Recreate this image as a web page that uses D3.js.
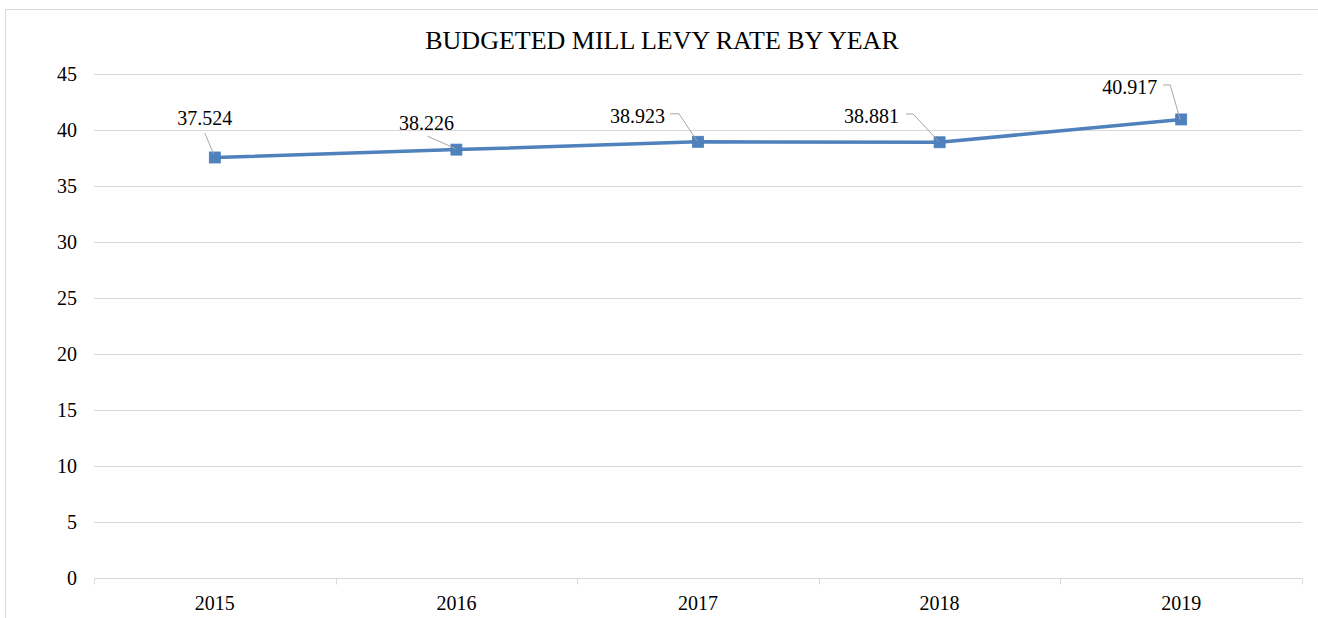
<!DOCTYPE html>
<html>
<head>
<meta charset="utf-8">
<title>Budgeted Mill Levy Rate by Year</title>
<script src="https://cdn.jsdelivr.net/npm/d3@7"></script>
<style>
body { margin: 0; background: #fff; }
svg { display: block; }
</style>
</head>
<body>
<div id="chart"></div>
<script>
// data
var years = ["2015", "2016", "2017", "2018", "2019"];
var rates = [37.524, 38.226, 38.923, 38.881, 40.917];
var yTicks = [0, 5, 10, 15, 20, 25, 30, 35, 40, 45];
var title = "BUDGETED MILL LEVY RATE BY YEAR";

// label placement relative to each point (text anchor, text pos, leader path)
var labelPos = [
  {anchor: "middle", dx: -10, dy: -32, lead: [[-10, -24.5], [-1, -3]]},
  {anchor: "middle", dx: -30, dy: -20, lead: [[-29, -13.5], [-1, -1]]},
  {anchor: "end", dx: -33, dy: -19, lead: [[-28, -28], [-19, -28], [-1, -1]]},
  {anchor: "end", dx: -40.5, dy: -19.5, lead: [[-33.5, -28.3], [-26.5, -28.3], [-1, -1]]},
  {anchor: "end", dx: -24, dy: -25.5, lead: [[-18, -34.5], [-11, -34.5], [-1, 0]]}
];

var FONT = "'Liberation Serif', 'Times New Roman', serif";
var W = 1318, H = 618;
var plotL = 94, plotR = 1302, plotT = 73.7, plotB = 578;

var svg = d3.select("#chart").append("svg")
  .attr("width", W).attr("height", H);

// chart frame
svg.append("path")
  .attr("d", "M5.5," + H + "V9.5H" + W)
  .attr("fill", "none").attr("stroke", "#d9d9d9").attr("stroke-width", 1);

svg.append("text")
  .attr("x", 662).attr("y", 49)
  .attr("text-anchor", "middle")
  .style("font-family", FONT)
  .attr("font-size", 26).attr("fill", "#000")
  .text(title);

var x = d3.scaleBand().domain(years).range([plotL, plotR]);
var y = d3.scaleLinear().domain([0, 45]).range([plotB, plotT]);

// gridlines
svg.append("g").selectAll("line").data(yTicks.filter(function(d) { return d > 0; }))
  .join("line")
  .attr("x1", plotL).attr("x2", plotR)
  .attr("y1", function(d) { return Math.round(y(d)) + 0.5; })
  .attr("y2", function(d) { return Math.round(y(d)) + 0.5; })
  .attr("stroke", "#d9d9d9").attr("stroke-width", 1);

// y axis labels
var yAxis = svg.append("g")
  .attr("transform", "translate(" + plotL + ",0)")
  .call(d3.axisLeft(y).tickValues(yTicks).tickSize(0).tickPadding(17));
yAxis.select(".domain").remove();
yAxis.selectAll("text").style("font-family", FONT).attr("font-size", 20).attr("fill", "#000");

// x axis with category boundary ticks
var xAxis = svg.append("g")
  .attr("transform", "translate(0," + (Math.round(plotB) + 0.5) + ")")
  .call(d3.axisBottom(x).tickSize(0).tickPadding(17));
xAxis.select(".domain").attr("stroke", "#d9d9d9").attr("d", "M" + plotL + ",0H" + plotR);
xAxis.selectAll("text").style("font-family", FONT).attr("font-size", 20).attr("fill", "#000");
var bounds = years.map(function(d) { return x(d); }).concat([plotR]);
xAxis.selectAll(".bound").data(bounds).join("line")
  .attr("class", "bound")
  .attr("x1", function(d) { return Math.round(d) + 0.5; })
  .attr("x2", function(d) { return Math.round(d) + 0.5; })
  .attr("y1", 0).attr("y2", 6)
  .attr("stroke", "#d9d9d9");

var pts = years.map(function(d, i) {
  return {year: d, v: rates[i], px: x(d) + x.bandwidth() / 2, py: y(rates[i]), lp: labelPos[i]};
});

svg.append("path")
  .datum(pts)
  .attr("fill", "none")
  .attr("stroke", "#4f81bd").attr("stroke-width", 3.5)
  .attr("stroke-linejoin", "round")
  .attr("d", d3.line().x(function(d) { return d.px; }).y(function(d) { return d.py; }));

svg.append("g").selectAll("rect").data(pts).join("rect")
  .attr("x", function(d) { return d.px - 5.5; })
  .attr("y", function(d) { return d.py - 5.5; })
  .attr("width", 11).attr("height", 11)
  .attr("fill", "#4f81bd").attr("stroke", "#4a7ebb").attr("stroke-width", 0.8);

// leader lines
svg.append("g").selectAll("path").data(pts).join("path")
  .attr("fill", "none").attr("stroke", "#a6a6a6").attr("stroke-width", 1)
  .attr("d", function(d) {
    return "M" + d.lp.lead.map(function(p) { return [d.px + p[0], d.py + p[1]].join(","); }).join("L");
  });

svg.append("g").selectAll("text").data(pts).join("text")
  .attr("x", function(d) { return d.px + d.lp.dx; })
  .attr("y", function(d) { return d.py + d.lp.dy; })
  .attr("text-anchor", function(d) { return d.lp.anchor; })
  .style("font-family", FONT)
  .attr("font-size", 20).attr("fill", "#000")
  .text(function(d) { return d3.format(".3f")(d.v); });
</script>
</body>
</html>
